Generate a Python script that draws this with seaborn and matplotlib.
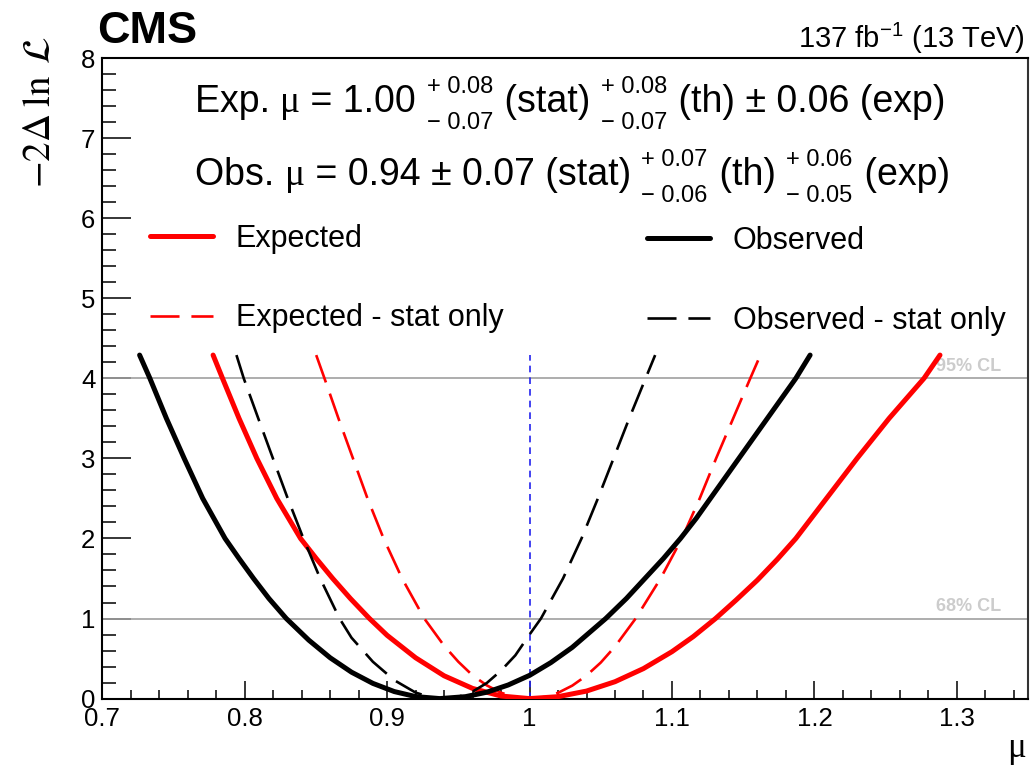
import matplotlib
matplotlib.use("Agg")
import matplotlib.pyplot as plt
import seaborn as sns
import pandas as pd
from matplotlib.ticker import MultipleLocator, FuncFormatter

# Profile likelihood scans: signal strength mu vs -2 Delta ln L
exp_mu = [0.7778, 0.7844, 0.7960, 0.8085, 0.8225, 0.8392, 0.8502, 0.8618, 0.8742,
          0.8876, 0.9000, 0.9200, 0.9400, 0.9600, 0.9800, 1.0000, 1.0200, 1.0400,
          1.0600, 1.0800, 1.1000, 1.1150, 1.1306, 1.1450, 1.1600, 1.1740, 1.1870,
          1.2085, 1.2300, 1.2525, 1.2770, 1.2882]
exp_nll = [4.29, 4.00, 3.50, 3.00, 2.50, 2.00, 1.75, 1.50, 1.25,
           1.00, 0.79, 0.51, 0.285, 0.127, 0.032, 0.00, 0.024, 0.094,
           0.211, 0.375, 0.586, 0.775, 1.00, 1.23, 1.48, 1.74, 2.00,
           2.50, 3.00, 3.50, 4.00, 4.29]

exp_stat_mu = [0.8502, 0.8560, 0.8658, 0.8760, 0.8862, 0.8975, 0.9105, 0.9261, 0.9400,
               0.9500, 0.9600, 0.9700, 0.9800, 0.9900, 1.0000, 1.0100, 1.0200, 1.0300,
               1.0400, 1.0500, 1.0600, 1.0745, 1.0920, 1.1070, 1.1195, 1.1310, 1.1430,
               1.1550, 1.1621]
exp_stat_nll = [4.29, 4.00, 3.50, 3.00, 2.50, 2.00, 1.50, 1.00, 0.66,
                0.46, 0.29, 0.165, 0.073, 0.018, 0.00, 0.018, 0.072, 0.162,
                0.288, 0.45, 0.65, 1.00, 1.50, 2.00, 2.50, 3.00, 3.50,
                4.00, 4.29]

obs_mu = [0.7262, 0.7334, 0.7450, 0.7575, 0.7705, 0.7862, 0.7960, 0.8062, 0.8170,
          0.8292, 0.8450, 0.8600, 0.8750, 0.8900, 0.9050, 0.9200, 0.9370, 0.9550,
          0.9700, 0.9850, 1.0000, 1.0150, 1.0300, 1.0535, 1.0680, 1.0810, 1.0940,
          1.1060, 1.1170, 1.1270, 1.1370, 1.1470, 1.1570, 1.1670, 1.1770, 1.1870,
          1.1970]
obs_nll = [4.29, 4.00, 3.50, 3.00, 2.50, 2.00, 1.75, 1.50, 1.25,
           1.00, 0.73, 0.51, 0.33, 0.19, 0.088, 0.025, 0.00, 0.024,
           0.08, 0.17, 0.29, 0.45, 0.64, 1.00, 1.25, 1.50, 1.75,
           2.00, 2.25, 2.50, 2.75, 3.00, 3.25, 3.50, 3.75, 4.00,
           4.29]

obs_stat_mu = [0.7942, 0.7993, 0.8095, 0.8198, 0.8302, 0.8412, 0.8530, 0.8666, 0.8750,
               0.8900, 0.9050, 0.9200, 0.9300, 0.9400, 0.9500, 0.9600, 0.9700, 0.9800,
               0.9900, 1.0000, 1.0080, 1.0235, 1.0365, 1.0480, 1.0590, 1.0700, 1.0815,
               1.0882]
obs_stat_nll = [4.29, 4.00, 3.50, 3.00, 2.50, 2.00, 1.50, 1.00, 0.76,
                0.46, 0.23, 0.075, 0.019, 0.00, 0.022, 0.087, 0.195, 0.35,
                0.54, 0.80, 1.00, 1.50, 2.00, 2.50, 3.00, 3.50, 4.00,
                4.29]

mu_sm = 1.0
cl_levels = [1.0, 4.0]
cl_labels = ["68% CL", "95% CL"]

W, H = 1032, 767
sns.set_style("white")
plt.rcParams["font.family"] = ["Liberation Sans", "DejaVu Sans"]
plt.rcParams["text.color"] = "black"
plt.rcParams["mathtext.fontset"] = "custom"
plt.rcParams["mathtext.rm"] = "Liberation Sans"
plt.rcParams["mathtext.it"] = "Liberation Sans:italic"
plt.rcParams["mathtext.bf"] = "Liberation Sans:bold"

fig = plt.figure(figsize=(W / 100, H / 100), dpi=100)
ax = fig.add_axes([102.3 / W, 1 - 698.6 / H, (1028 - 102.3) / W, (698.6 - 58) / H])

# reference lines for the 68% and 95% confidence levels
for lvl, lab in zip(cl_levels, cl_labels):
    ax.axhline(lvl, color="#a0a0a0", lw=1.2, zorder=1)
    ax.text(1.3312, lvl + 0.09, lab, ha="right", va="baseline", color="#cccccc",
            fontsize=13, fontweight="bold", zorder=1)

scan_top = max(exp_nll + obs_nll + exp_stat_nll + obs_stat_nll)
ax.vlines(mu_sm, 0, scan_top, colors="#2222ee", linestyles=(0, (4, 3)), lw=1.2, zorder=2)

curves = [
    ("Expected", exp_mu, exp_nll, "#ff0000", 3.6, "-"),
    ("Expected - stat only", exp_stat_mu, exp_stat_nll, "#ff0000", 1.9, (0, (11, 4.5))),
    ("Observed", obs_mu, obs_nll, "#000000", 3.6, "-"),
    ("Observed - stat only", obs_stat_mu, obs_stat_nll, "#000000", 1.9, (0, (11, 4.5))),
]
handles = {}
for label, xs, ys, col, lw, ls in curves:
    df = pd.DataFrame({"mu": xs, "nll": ys})
    sns.lineplot(data=df, x="mu", y="nll", ax=ax, sort=False, estimator=None,
                 color=col, lw=lw, linestyle=ls, label=label, zorder=3)
    handles[label] = ax.get_lines()[-1]

ax.set_xlim(0.7, 1.35)
ax.set_ylim(0, 8)
ax.set_xlabel("")
ax.set_ylabel("")

ax.xaxis.set_major_locator(MultipleLocator(0.1))
ax.xaxis.set_minor_locator(MultipleLocator(0.02))
ax.yaxis.set_major_locator(MultipleLocator(1))
ax.yaxis.set_minor_locator(MultipleLocator(0.2))
ax.xaxis.set_major_formatter(FuncFormatter(lambda v, p: "%g" % round(v, 3)))
ax.yaxis.set_major_formatter(FuncFormatter(lambda v, p: "%d" % round(v)))
ax.tick_params(axis="x", which="major", direction="in", length=13, width=1.1,
               pad=6, labelsize=18.5, bottom=True, top=False, colors="black")
ax.tick_params(axis="x", which="minor", direction="in", length=6.5, width=1.1,
               bottom=True, top=False, colors="black")
ax.tick_params(axis="y", which="major", direction="in", length=21, width=1.1,
               pad=5, labelsize=18.5, left=True, right=False, colors="black")
ax.tick_params(axis="y", which="minor", direction="in", length=10, width=1.1,
               left=True, right=False, colors="black")
for side in ["left", "bottom", "top"]:
    ax.spines[side].set_linewidth(1.5)
    ax.spines[side].set_color("black")
ax.spines["right"].set_linewidth(1.5)
ax.spines["right"].set_color("#333333")

# legend: two columns placed independently
ax.get_legend().remove()
leg_kw = dict(frameon=False, fontsize=22, handlelength=2.05, handletextpad=0.75,
              labelspacing=1.62, borderpad=0, borderaxespad=0)
leg1 = ax.legend([handles["Expected"], handles["Expected - stat only"]],
                 ["Expected", "Expected - stat only"], loc="upper left",
                 bbox_to_anchor=(150 / W, 1 - 224 / H), bbox_transform=fig.transFigure,
                 **leg_kw)
ax.add_artist(leg1)
ax.legend([handles["Observed"], handles["Observed - stat only"]],
          ["Observed", "Observed - stat only"], loc="upper left",
          bbox_to_anchor=(647 / W, 1 - 226 / H), bbox_transform=fig.transFigure,
          **leg_kw)

# headline texts
fig.text(97 / W, 1 - 43 / H, "CMS", fontsize=32.5, fontweight="bold", va="baseline", ha="left")
fig.text(1025 / W, 1 - 48 / H, r"137 fb$^{-1}$ (13 TeV)", fontsize=21, va="baseline", ha="right")

# axis titles
fig.text(40 / W, 1 - 112 / H, r"$-2\Delta\;\ln\;\mathcal{L}$", rotation=90, fontsize=28,
         ha="center", va="center", math_fontfamily="stix")
fig.text(1026 / W, 1 - 757 / H, "\u03bc", fontsize=25, family="Liberation Serif",
         ha="right", va="baseline")

# fit results with asymmetric uncertainties
FS_MAIN, FS_SMALL = 27, 17
renderer = fig.canvas.get_renderer()


def put_row(x0, base, pieces):
    x = x0
    for piece in pieces:
        kind = piece[0]
        if kind == "t":
            t = fig.text(x / W, 1 - base / H, piece[1], fontsize=FS_MAIN, family=piece[2],
                         va="baseline", ha="left")
            x += t.get_window_extent(renderer).width
        elif kind == "gap":
            x += piece[1]
        else:
            t1 = fig.text(x / W, 1 - (base - 19) / H, piece[1], fontsize=FS_SMALL,
                          va="baseline", ha="left")
            t2 = fig.text(x / W, 1 - (base + 17) / H, piece[2], fontsize=FS_SMALL,
                          va="baseline", ha="left")
            x += max(t1.get_window_extent(renderer).width, t2.get_window_extent(renderer).width)


SANS, SERIF = "Liberation Sans", "Liberation Serif"
put_row(195, 112, [("t", "Exp. ", SANS), ("t", "\u03bc", SERIF), ("t", " = 1.00 ", SANS),
                   ("ud", "+ 0.08", "\u2212 0.07"), ("gap", 1), ("t", " (stat) ", SANS),
                   ("ud", "+ 0.08", "\u2212 0.07"), ("gap", 1), ("t", " (th) \u00b1 0.06 (exp)", SANS)])
put_row(195, 185, [("t", "Obs. ", SANS), ("t", "\u03bc", SERIF),
                   ("t", " = 0.94 \u00b1 0.07 (stat) ", SANS),
                   ("ud", "+ 0.07", "\u2212 0.06"), ("gap", 1), ("t", " (th) ", SANS),
                   ("ud", "+ 0.06", "\u2212 0.05"), ("gap", 1), ("t", " (exp)", SANS)])

fig.savefig("out.png", dpi=100)
